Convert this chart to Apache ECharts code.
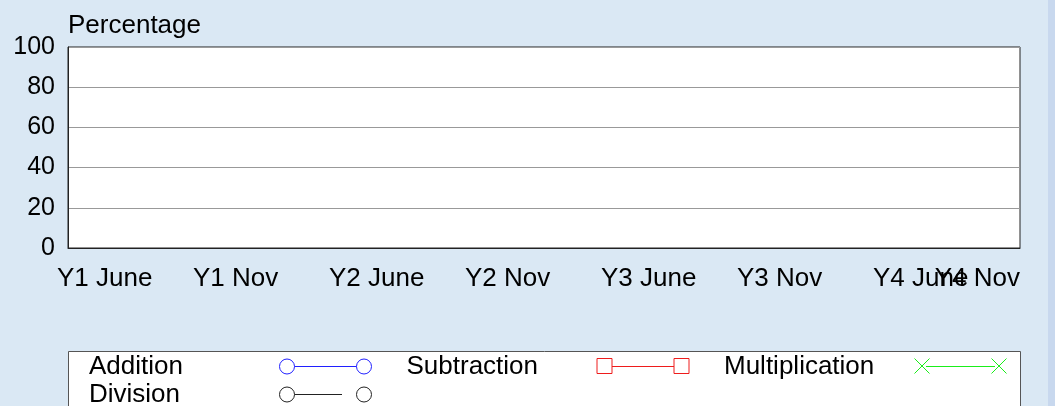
<!DOCTYPE html>
<html lang="en">
<head>
<meta charset="utf-8">
<title>Percentage</title>
<script src="https://cdn.jsdelivr.net/npm/echarts@6/dist/echarts.min.js"></script>
<style>
	html, body { margin: 0; padding: 0; background: #dae8f4; }
	#chart { width: 1055px; height: 406px; }
</style>
</head>
<body>
<div id="chart"></div>
<script type="text/javascript">
// categories on the x axis
var periods = ['Y1 June', 'Y1 Nov', 'Y2 June', 'Y2 Nov', 'Y3 June', 'Y3 Nov', 'Y4 June', 'Y4 Nov'];
// y axis ticks
var yMin = 0, yMax = 100, yStep = 20;
// series names; the picture shows no points for any of them
var names = ['Addition', 'Subtraction', 'Multiplication', 'Division'];
var additionData = [];
var subtractionData = [];
var multiplicationData = [];
var divisionData = [];

var font = 'Liberation Sans, Arial, sans-serif';

// legend icons: symbol - line - symbol, 93 x 18 (first two moves pin the bounds)
var box = 'M0,0 M93,18 ';
var icons = {
	Addition: 'path://' + box + 'M0.5,8.5 A7.5,7.5 0 1,1 15.5,8.5 A7.5,7.5 0 1,1 0.5,8.5 Z M15.5,8.5 L77.5,8.5 M77.5,8.5 A7.5,7.5 0 1,1 92.5,8.5 A7.5,7.5 0 1,1 77.5,8.5 Z',
	Subtraction: 'path://' + box + 'M0.5,0.5 L15.5,0.5 L15.5,15.5 L0.5,15.5 Z M15.5,8.5 L77.5,8.5 M77.5,0.5 L92.5,0.5 L92.5,15.5 L77.5,15.5 Z',
	Multiplication: 'path://' + box + 'M0.5,0.5 L15.5,15.5 M0.5,15.5 L15.5,0.5 M12,8.5 L81,8.5 M77.5,0.5 L92.5,15.5 M77.5,15.5 L92.5,0.5',
	Division: 'path://' + box + 'M0.5,8.5 A7.5,7.5 0 1,1 15.5,8.5 A7.5,7.5 0 1,1 0.5,8.5 Z M15.5,8.5 L63,8.5 M77.5,8.5 A7.5,7.5 0 1,1 92.5,8.5 A7.5,7.5 0 1,1 77.5,8.5 Z'
};
var colors = {
	Addition: '#2020ff',
	Subtraction: '#ee1c1c',
	Multiplication: '#1aee1a',
	Division: '#222222'
};

function legendItem(n) {
	return {
		name: n,
		icon: icons[n],
		itemStyle: { color: 'none', borderColor: colors[n], borderWidth: 1 }
	};
}

function legendBox(items, top) {
	return {
		data: items.map(legendItem),
		left: 89,
		top: top,
		padding: 0,
		orient: 'horizontal',
		align: 'right',
		itemWidth: 93,
		itemHeight: 18,
		itemGap: 32,
		selectedMode: false,
		formatter: '{t|{name}}',
		textStyle: {
			color: '#000',
			fontFamily: font,
			fontSize: 26,
			rich: { t: { width: 185, align: 'left', fontFamily: font, fontSize: 26, color: '#000' } }
		}
	};
}

var xData = periods.map(function (p, i) {
	if (i === periods.length - 1) {
		return { value: p, textStyle: { align: 'right', padding: [0, 0, 0, 0] } };
	}
	return p;
});

var myChart = echarts.init(document.getElementById('chart'));
var option = {
	backgroundColor: '#dae8f4',
	animation: false,
	textStyle: { fontFamily: font },
	graphic: [
		{ type: 'rect', shape: { x: 1048, y: 0, width: 7, height: 406 }, style: { fill: '#c8d8ee' }, z: -1 },
		{ type: 'rect', shape: { x: 68.5, y: 351.5, width: 952, height: 80 }, style: { fill: '#fff', stroke: '#555', lineWidth: 1 }, z: -1 }
	],
	grid: {
		left: 68, right: 35, top: 47, bottom: 158,
		show: true, backgroundColor: '#fff', borderColor: '#222', borderWidth: 1,
		outerBoundsMode: 'none'
	},
	legend: [
		legendBox(names.slice(0, 3), 354),
		legendBox(names.slice(3), 382)
	],
	xAxis: {
		type: 'category',
		data: xData,
		boundaryGap: false,
		axisLine: { show: true, lineStyle: { color: '#222', width: 1 } },
		axisTick: { show: false },
		splitLine: { show: false },
		axisLabel: {
			interval: 0,
			margin: 18,
			align: 'left',
			padding: [0, 0, 0, -11],
			color: '#000',
			fontFamily: font,
			fontSize: 26
		}
	},
	yAxis: {
		type: 'value',
		name: 'Percentage',
		nameLocation: 'end',
		nameGap: 8,
		nameTextStyle: { color: '#000', fontFamily: font, fontSize: 26, align: 'left', verticalAlign: 'bottom', lineHeight: 26 },
		min: yMin,
		max: yMax,
		interval: yStep,
		axisLine: { show: true, lineStyle: { color: '#222', width: 1 } },
		axisTick: { show: false },
		splitLine: { show: true, lineStyle: { color: '#999', width: 1 } },
		axisLabel: { margin: 13, color: '#000', fontFamily: font, fontSize: 25 }
	},
	series: [
		{ name: 'Addition', type: 'line', data: additionData, symbol: 'emptyCircle', itemStyle: { color: colors.Addition }, lineStyle: { color: colors.Addition } },
		{ name: 'Subtraction', type: 'line', data: subtractionData, symbol: 'emptyRect', itemStyle: { color: colors.Subtraction }, lineStyle: { color: colors.Subtraction } },
		{ name: 'Multiplication', type: 'line', data: multiplicationData, symbol: 'emptyCircle', itemStyle: { color: colors.Multiplication }, lineStyle: { color: colors.Multiplication } },
		{ name: 'Division', type: 'line', data: divisionData, symbol: 'emptyCircle', itemStyle: { color: colors.Division }, lineStyle: { color: colors.Division } }
	]
};
if (option && typeof option === 'object') {
	myChart.setOption(option);
}
</script>
</body>
</html>
